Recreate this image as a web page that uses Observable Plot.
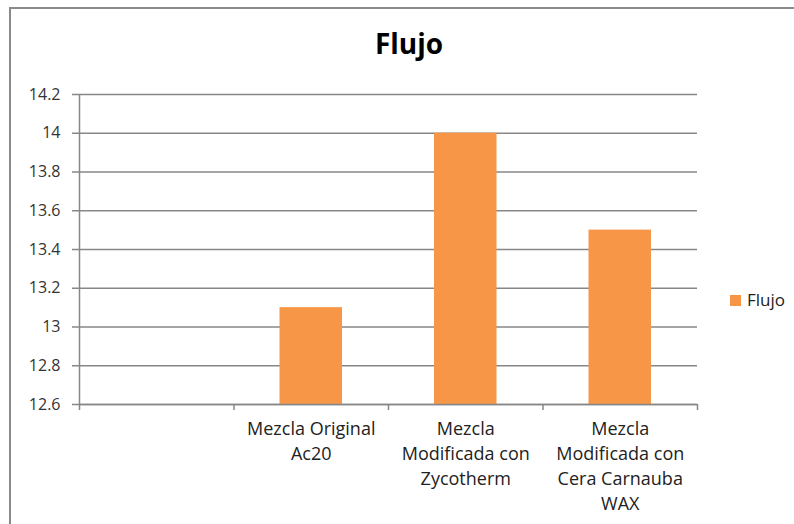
<!DOCTYPE html>
<html>
<head>
<meta charset="utf-8">
<script src="https://cdn.jsdelivr.net/npm/d3@7"></script>
<script src="https://cdn.jsdelivr.net/npm/@observablehq/plot@0.6"></script>
<style>
  html, body { margin: 0; padding: 0; background: #fff; }
  #wrap { position: relative; width: 794px; height: 524px; overflow: hidden; font-family: "Open Sans", sans-serif; }
  #frame { position: absolute; left: 9px; top: 7px; width: 820px; height: 560px; border: 2px solid #8a8a8a; box-sizing: border-box; }
  #title { position: absolute; left: 0; width: 818px; top: 24px; text-align: center; font-size: 28px; line-height: 38px; font-weight: bold; color: #000; }
  #legend { position: absolute; left: 730px; top: 288px; font-size: 17px; line-height: 24px; color: #222; display: flex; align-items: center; }
  #legend .sw { width: 11px; height: 11px; background: #F79646; margin-right: 6px; }
  #chart { position: absolute; left: 0; top: 0; }
</style>
</head>
<body>
<div id="wrap">
  <div id="frame"></div>
  <div id="chart"></div>
  <div id="title">Flujo</div>
  <div id="legend"><span class="sw"></span><span>Flujo</span></div>
</div>
<script>
const categories = ["", "Mezcla Original Ac20", "Mezcla Modificada con Zycotherm", "Mezcla Modificada con Cera Carnauba WAX"];
const tickLabels = ["", "Mezcla Original\nAc20", "Mezcla\nModificada con\nZycotherm", "Mezcla\nModificada con\nCera Carnauba\nWAX"];
const values = [null, 13.1, 14.0, 13.5];
const yTicks = [12.6, 12.8, 13, 13.2, 13.4, 13.6, 13.8, 14, 14.2];
const xBoundaries = [0, 1, 2, 3, 4];

const data = categories.map((c, i) => ({i, category: c, label: tickLabels[i], value: values[i]}));
const bars = data.filter(d => d.value != null);

const chart = Plot.plot({
  width: 794,
  height: 524,
  marginLeft: 79,
  marginRight: 97,
  marginTop: 94,
  marginBottom: 120,
  style: {fontFamily: "Open Sans, sans-serif", background: "transparent"},
  x: {type: "linear", domain: [0, 4], axis: null},
  y: {domain: [12.6, 14.2], axis: null},
  marks: [
    Plot.ruleY(yTicks, {x1: 0, x2: 4, stroke: "#878787", strokeWidth: 1.5}),
    Plot.axisY({ticks: yTicks, label: null, tickSize: 7, tickPadding: 12, stroke: "#878787", strokeWidth: 1.5, strokeOpacity: 1, fontSize: 16, fill: "#333", tickFormat: d => String(d)}),
    Plot.rectY(bars, {x1: d => d.i, x2: d => d.i + 1, y1: 12.6, y2: "value", fill: "#F79646", insetLeft: 46, insetRight: 46}),
    Plot.ruleX([0], {y1: 12.6, y2: 14.2, stroke: "#878787", strokeWidth: 1.5}),
    Plot.axisX({ticks: xBoundaries, label: null, tickSize: 6, tickFormat: () => "", stroke: "#878787", strokeWidth: 1.5, strokeOpacity: 1}),
    Plot.ruleY([12.6], {x1: 0, x2: 4, stroke: "#878787", strokeWidth: 1.5}),
    Plot.text(bars, {x: d => d.i + 0.5, y: 12.6, text: "label", lineAnchor: "top", dy: 13, lineHeight: 1.39, fontSize: 18, fill: "#222"})
  ]
});
document.getElementById("chart").appendChild(chart);
</script>
</body>
</html>
